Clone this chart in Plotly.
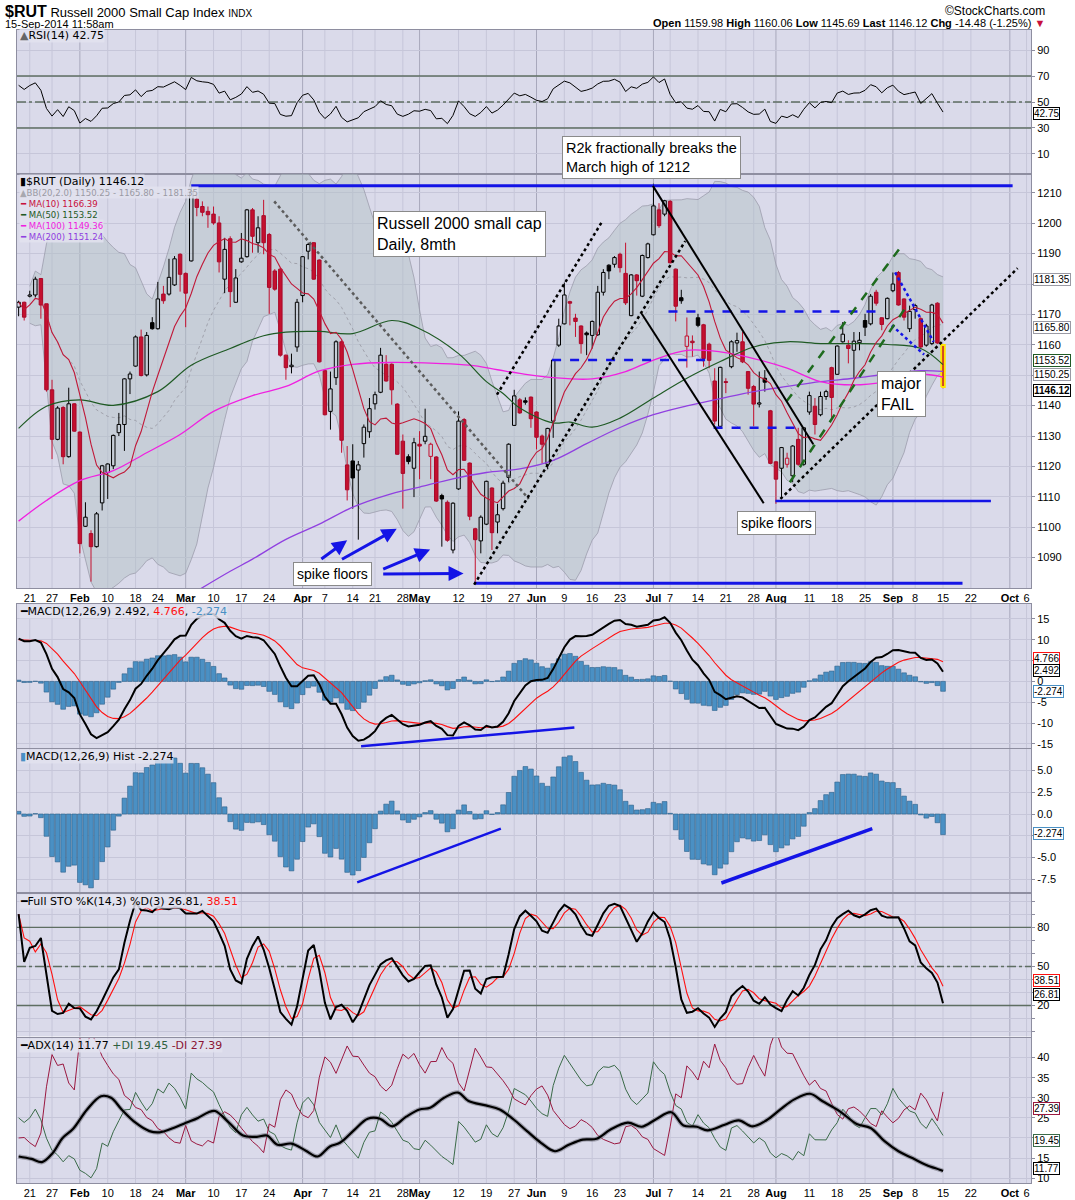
import numpy as np
import pandas as pd
import plotly.graph_objects as go

# daily candles, 16-Jan-2014 .. 15-Sep-2014 (trading-day index 0..166)
opens = [1172.4, 1174.0, 1176.0, 1176.4, 1181.8, 1173.5, 1145.2, 1128.9, 1139.4, 1123.2,
         1140.6, 1131.3, 1100.3, 1097.9, 1093.6, 1108.0, 1118.0, 1120.2, 1131.1, 1133.8,
         1148.8, 1153.0, 1162.6, 1150.1, 1167.3, 1165.3, 1176.7, 1176.7, 1179.7, 1189.8,
         1183.5, 1187.6, 1207.9, 1205.5, 1203.9, 1203.0, 1200.1, 1181.6, 1194.9, 1174.0,
         1187.3, 1189.0, 1204.4, 1193.6, 1202.5, 1196.3, 1184.3, 1184.9, 1156.6, 1152.8,
         1159.3, 1176.2, 1190.8, 1193.6, 1187.9, 1151.5, 1138.1, 1149.2, 1161.0, 1120.5,
         1121.8, 1118.8, 1127.5, 1131.4, 1140.6, 1144.4, 1153.6, 1153.6, 1140.5, 1128.3,
         1123.2, 1119.4, 1127.3, 1128.3, 1123.3, 1123.1, 1110.4, 1108.2, 1092.5, 1112.6,
         1135.4, 1121.1, 1099.5, 1095.5, 1101.0, 1112.9, 1101.7, 1106.1, 1116.4, 1133.5,
         1141.9, 1141.6, 1142.8, 1137.9, 1130.0, 1120.7, 1134.9, 1159.9, 1166.9, 1174.2,
         1168.8, 1166.2, 1163.9, 1163.1, 1163.3, 1177.3, 1186.2, 1186.5, 1189.8, 1183.5,
         1169.6, 1183.0, 1176.0, 1188.7, 1196.2, 1204.4, 1203.0, 1207.2, 1184.9, 1175.5,
         1159.5, 1161.2, 1168.9, 1166.6, 1160.2, 1148.1, 1133.2, 1147.9, 1152.8, 1160.6,
         1161.0, 1151.2, 1146.3, 1140.5, 1149.0, 1138.3, 1121.5, 1119.4, 1120.7, 1116.9,
         1128.9, 1120.7, 1137.9, 1139.8, 1137.0, 1143.0, 1152.5, 1150.3, 1161.0, 1159.9,
         1158.2, 1160.7, 1168.0, 1166.9, 1177.3, 1168.9, 1168.6, 1177.8, 1183.8, 1175.1,
         1165.3, 1171.6, 1168.6, 1159.9, 1160.4, 1173.7, 1159.98]
highs = [1174.5, 1174.2, 1177.8, 1182.4, 1182.0, 1173.5, 1148.5, 1139.8, 1139.8, 1145.9,
         1140.8, 1131.5, 1108.2, 1099.0, 1105.0, 1120.5, 1121.0, 1130.5, 1137.6, 1149.0,
         1151.2, 1163.1, 1165.0, 1164.2, 1169.1, 1180.7, 1179.4, 1188.3, 1189.2, 1190.1,
         1183.8, 1212.0, 1209.3, 1207.2, 1205.5, 1205.5, 1202.3, 1195.2, 1195.7, 1184.9,
         1196.8, 1204.7, 1205.0, 1202.3, 1207.7, 1196.8, 1184.9, 1185.4, 1156.8, 1157.1,
         1175.1, 1189.2, 1193.6, 1193.8, 1188.1, 1151.7, 1151.2, 1161.5, 1161.5, 1126.7,
         1127.3, 1121.8, 1133.8, 1142.5, 1144.6, 1159.0, 1156.6, 1153.9, 1140.8, 1130.5,
         1124.0, 1129.4, 1131.6, 1139.0, 1127.8, 1123.4, 1111.0, 1108.8, 1108.2, 1138.1,
         1135.9, 1121.3, 1099.8, 1103.9, 1115.3, 1113.1, 1107.7, 1115.3, 1127.6, 1145.2,
         1142.5, 1142.7, 1143.0, 1138.1, 1130.5, 1132.7, 1155.2, 1168.6, 1180.5, 1174.5,
         1170.2, 1166.4, 1164.4, 1168.0, 1179.4, 1184.9, 1186.5, 1189.2, 1190.3, 1193.6,
         1183.3, 1183.3, 1189.7, 1193.6, 1213.0, 1206.6, 1207.7, 1207.6, 1185.1, 1178.1,
         1169.0, 1163.1, 1170.2, 1166.9, 1160.7, 1152.3, 1152.8, 1149.0, 1161.5, 1164.0,
         1164.2, 1151.4, 1146.8, 1151.2, 1151.7, 1138.6, 1121.8, 1126.4, 1124.5, 1127.0,
         1132.7, 1132.9, 1144.6, 1142.5, 1144.6, 1145.2, 1152.8, 1159.8, 1167.5, 1161.5,
         1164.2, 1164.2, 1170.2, 1176.7, 1178.1, 1169.1, 1175.6, 1183.8, 1184.3, 1175.3,
         1172.9, 1173.5, 1169.1, 1166.9, 1173.5, 1174.0, 1160.06]
lows = [1169.4, 1168.0, 1175.6, 1175.6, 1168.6, 1144.6, 1122.4, 1128.6, 1120.7, 1122.9,
        1131.4, 1091.4, 1100.1, 1082.1, 1093.3, 1105.5, 1109.3, 1119.1, 1130.0, 1125.1,
        1143.8, 1152.8, 1149.6, 1149.6, 1165.0, 1165.0, 1173.5, 1176.2, 1179.4, 1177.5,
        1165.8, 1187.4, 1202.3, 1202.3, 1198.5, 1199.5, 1183.8, 1177.0, 1172.4, 1173.8,
        1187.0, 1188.7, 1190.3, 1190.3, 1189.8, 1170.2, 1177.8, 1156.1, 1148.5, 1150.6,
        1157.7, 1174.0, 1188.1, 1181.4, 1154.2, 1136.8, 1132.1, 1146.8, 1124.5, 1108.8,
        1106.1, 1095.9, 1122.9, 1129.4, 1138.7, 1144.1, 1147.9, 1140.3, 1123.8, 1106.1,
        1120.7, 1109.9, 1115.8, 1127.3, 1115.8, 1108.3, 1093.6, 1095.2, 1091.4, 1112.3,
        1121.8, 1102.3, 1081.6, 1091.4, 1100.7, 1092.5, 1098.0, 1105.5, 1114.8, 1133.3,
        1137.3, 1140.3, 1132.7, 1125.6, 1121.0, 1119.1, 1129.4, 1159.3, 1166.7, 1166.4,
        1162.6, 1157.1, 1156.6, 1158.8, 1162.9, 1176.2, 1181.6, 1185.4, 1183.8, 1173.1,
        1169.4, 1176.2, 1175.7, 1188.4, 1196.0, 1198.5, 1202.3, 1186.8, 1167.7, 1173.5,
        1152.5, 1156.1, 1165.8, 1152.8, 1152.3, 1133.8, 1132.7, 1144.1, 1152.3, 1157.7,
        1154.0, 1143.6, 1133.2, 1139.4, 1144.6, 1120.8, 1107.7, 1109.3, 1119.6, 1114.8,
        1120.2, 1120.2, 1137.0, 1130.5, 1136.5, 1141.9, 1135.9, 1150.1, 1160.7, 1153.9,
        1149.0, 1158.2, 1162.9, 1166.4, 1172.9, 1164.8, 1168.4, 1177.3, 1172.9, 1168.0,
        1164.2, 1168.6, 1158.8, 1159.4, 1159.9, 1160.3, 1145.69]
closes = [1174.0, 1169.1, 1176.4, 1181.6, 1173.1, 1145.2, 1128.9, 1139.2, 1123.2, 1140.6,
          1131.6, 1094.6, 1103.3, 1093.6, 1104.4, 1120.2, 1120.8, 1130.2, 1133.8, 1148.8,
          1150.4, 1162.6, 1149.9, 1163.1, 1165.3, 1175.1, 1174.5, 1182.2, 1188.3, 1183.2,
          1177.0, 1210.4, 1205.2, 1203.6, 1202.8, 1200.1, 1187.3, 1191.4, 1177.5, 1182.0,
          1188.5, 1204.4, 1195.7, 1198.5, 1193.6, 1178.9, 1178.3, 1156.6, 1152.5, 1153.3,
          1174.0, 1189.0, 1193.0, 1181.6, 1154.4, 1137.0, 1145.5, 1161.0, 1128.6, 1112.3,
          1116.2, 1120.5, 1132.9, 1139.0, 1143.6, 1156.6, 1148.1, 1145.2, 1124.0, 1117.7,
          1121.6, 1127.8, 1126.7, 1129.9, 1127.3, 1108.6, 1109.3, 1095.7, 1107.9, 1134.9,
          1122.0, 1103.6, 1095.9, 1103.3, 1115.1, 1098.2, 1104.1, 1114.5, 1127.3, 1143.2,
          1137.6, 1141.1, 1135.7, 1129.6, 1127.3, 1132.5, 1155.0, 1166.2, 1176.4, 1173.7,
          1167.7, 1160.4, 1163.3, 1167.7, 1177.3, 1183.8, 1184.3, 1188.7, 1185.4, 1173.8,
          1183.0, 1181.1, 1189.4, 1193.2, 1205.7, 1199.2, 1207.4, 1187.0, 1172.7, 1174.5,
          1162.9, 1160.7, 1166.4, 1155.5, 1154.9, 1134.9, 1152.6, 1147.6, 1161.0, 1161.4,
          1154.4, 1145.7, 1140.5, 1140.9, 1147.7, 1121.0, 1115.8, 1126.2, 1122.7, 1126.7,
          1120.7, 1132.7, 1143.3, 1133.8, 1143.0, 1144.6, 1142.7, 1159.6, 1163.5, 1158.8,
          1161.2, 1161.5, 1165.8, 1176.0, 1173.7, 1166.7, 1175.3, 1180.0, 1173.1, 1169.1,
          1171.0, 1172.9, 1159.3, 1166.2, 1173.1, 1160.6, 1146.12]

# long averages (they need history from before the window)
ma50_x = [0, 5, 11, 17, 25, 31, 38, 44, 48, 54, 60, 67, 72, 79, 84, 87, 90, 96, 99, 103,
          108, 114, 120, 126, 132, 138, 144, 150, 156, 162, 166]
ma50_y = [1132.5, 1139.8, 1141.9, 1140.1, 1144.6, 1153.3, 1158.8, 1163.0, 1164.2, 1164.4,
          1163.7, 1168.0, 1165.3, 1157.1, 1147.9, 1144.0, 1139.2, 1134.3, 1134.6, 1132.9,
          1135.9, 1142.5, 1149.0, 1154.5, 1159.3, 1161.0, 1160.4, 1160.4, 1160.1, 1158.8, 1153.5]
ma100_x = [0, 5, 11, 17, 23, 29, 35, 42, 48, 54, 60, 67, 75, 81, 86, 90, 96, 103, 109,
           114, 120, 126, 132, 138, 144, 150, 156, 162, 166]
ma100_y = [1102.0, 1108.8, 1115.3, 1118.6, 1124.5, 1130.5, 1138.1, 1143.3, 1146.3, 1151.4,
           1153.6, 1154.2, 1153.9, 1153.3, 1151.8, 1150.6, 1149.2, 1148.8, 1151.2, 1155.0,
           1158.2, 1157.7, 1155.5, 1152.3, 1147.9, 1146.8, 1147.9, 1150.3, 1149.4]
ma200_x = [32, 38, 42, 48, 54, 60, 66, 72, 78, 84, 90, 96, 102, 108, 114, 120, 126, 132,
           138, 144, 150, 156, 162, 166]
ma200_y = [1079.0, 1085.5, 1089.5, 1096.0, 1101.0, 1106.6, 1110.5, 1113.2, 1115.9, 1118.0,
           1119.2, 1122.0, 1127.5, 1132.8, 1137.0, 1139.9, 1142.3, 1144.6, 1146.3, 1147.9,
           1149.0, 1150.4, 1151.5, 1151.24]
adx_x = [0, 2.3, 4.2, 6.1, 7.9, 9.8, 12.3, 14.8, 16.6, 18.5, 21.0, 23.5, 25.3, 27.8, 30.3,
         32.2, 34.1, 35.3, 37.8, 40.3, 42.8, 44.6, 46.5, 49.0, 51.5, 53.7, 55.9, 57.7, 60.2,
         62.7, 64.9, 67.1, 69.6, 72.0, 73.9, 76.4, 78.9, 80.8, 83.9, 86.4, 88.9, 91.3, 93.8,
         96.3, 98.8, 101.3, 103.8, 106.3, 109.4, 111.9, 114.4, 117.2, 119.4, 121.8, 123.7,
         126.8, 129.3, 131.8, 134.3, 136.8, 139.3, 142.1, 144.3, 147.4, 150.5, 153.0, 155.5,
         158.0, 160.5, 163.0, 165.4, 166]
adx_y = [15.4, 14.8, 14.0, 16.2, 20.0, 22.3, 27.1, 30.4, 30.0, 27.1, 23.8, 21.7, 21.4, 22.5,
         23.9, 25.0, 26.4, 26.7, 23.8, 20.6, 20.3, 20.6, 18.3, 18.6, 16.9, 15.4, 17.9, 18.8,
         21.9, 24.8, 24.8, 22.9, 25.3, 27.1, 27.5, 30.0, 31.3, 29.2, 28.1, 27.1, 24.6, 21.7,
         18.8, 16.7, 18.3, 19.6, 19.8, 22.1, 23.8, 22.8, 24.6, 26.4, 23.1, 22.8, 21.9, 23.3,
         24.4, 22.9, 24.4, 27.1, 29.6, 31.0, 29.2, 26.7, 23.5, 22.5, 19.2, 16.7, 15.0, 13.3,
         12.1, 11.77]

# indicator state on the first bar
rsi_seed_gain, rsi_seed_loss = 4.4, 2.6
ema12_seed, ema26_seed, signal_seed = 1167.5, 1157.2, 10.0
atr_seed, pdm_seed, ndm_seed = 10.0, 2.5, 2.0

tick_idx = [2, 6, 11, 16, 21, 25, 30, 35, 40, 45, 51, 55, 60, 64, 69, 72, 79, 84, 89, 93,
            98, 103, 108, 114, 117, 122, 127, 132, 136, 142, 147, 152, 157, 161, 166, 171,
            178, 181]
tick_text = ["21", "27", "Feb", "10", "18", "24", "Mar", "10", "17", "24", "Apr", "7", "14",
             "21", "28", "May", "12", "19", "27", "Jun", "9", "16", "23", "Jul", "7", "14",
             "21", "28", "Aug", "11", "18", "25", "Sep", "8", "15", "22", "Oct", "6"]
month_idx = [11, 30, 51, 72, 93, 114, 136, 157, 178]

# ---------------------------------------------------------------- indicators
df = pd.DataFrame({"o": opens, "h": highs, "l": lows, "c": closes})
n = len(df)
ix = np.arange(n)
c = df["c"]

ma10 = c.rolling(10, min_periods=1).mean()
bb_mid = c.rolling(20, min_periods=3).mean()
bb_sd = c.rolling(20, min_periods=3).std(ddof=0)
bb_up = bb_mid + 2 * bb_sd
bb_lo = bb_mid - 2 * bb_sd


def wilder(values, seed, period=14):
    out, acc = [], seed
    for i, v in enumerate(values):
        if i > 0:
            acc = (acc * (period - 1) + v) / period
        out.append(acc)
    return np.array(out)


def ema(values, seed, span):
    k = 2 / (span + 1)
    out, acc = [], seed
    for i, v in enumerate(values):
        if i > 0:
            acc = acc + k * (v - acc)
        out.append(acc)
    return np.array(out)


chg = c.diff().fillna(0).to_numpy()
avg_up = wilder(np.clip(chg, 0, None), rsi_seed_gain)
avg_dn = wilder(np.clip(-chg, 0, None), rsi_seed_loss)
rsi = 100 - 100 / (1 + avg_up / avg_dn)

macd = ema(closes, ema12_seed, 12) - ema(closes, ema26_seed, 26)
signal = ema(macd, signal_seed, 9)
hist = macd - signal

ll = df["l"].rolling(14, min_periods=1).min()
hh = df["h"].rolling(14, min_periods=1).max()
sto_k = (100 * (c - ll) / (hh - ll)).rolling(3, min_periods=1).mean()
sto_d = sto_k.rolling(3, min_periods=1).mean()

pc = c.shift()
tr = pd.concat([df["h"] - df["l"], (df["h"] - pc).abs(), (df["l"] - pc).abs()], axis=1).max(axis=1)
up_move = (df["h"] - df["h"].shift()).fillna(0)
dn_move = (df["l"].shift() - df["l"]).fillna(0)
pdm = np.where((up_move > dn_move) & (up_move > 0), up_move, 0.0)
ndm = np.where((dn_move > up_move) & (dn_move > 0), dn_move, 0.0)
atr = wilder(tr.to_numpy(), atr_seed)
pdi = 100 * wilder(pdm, pdm_seed) / atr
ndi = 100 * wilder(ndm, ndm_seed) / atr

# ---------------------------------------------------------------- layout helpers
W, H = 1075, 1200
ML, MR, MT, MB = 17, 44, 30, 17
PW, PH = W - ML - MR, H - MT - MB
XR = [-0.29, 181.8]


def px(x):
    return (x - ML) / PW


def py(y):
    return 1 - (y - MT) / PH


BG = "#DADAEA"
GRID = "#C6C6D9"
MONTHC = "#A8A8BC"
RED = "#C4102E"
HBLUE = "#4A90C4"
LBLUE = "#1414E6"
FONT_AX = "Liberation Sans Narrow, Arial Narrow, Liberation Sans, Arial, sans-serif"
FONT_LEG = "DejaVu Sans, Verdana, sans-serif"
FONT_SMALL = "DejaVu Sans Condensed, Liberation Sans, Arial, sans-serif"
FONT_BOX = "Liberation Sans, Arial, sans-serif"

panels = {  # top px, bottom px, y range
    1: (30, 174, [-5.4, 105.4]),
    2: (174, 588, [1080, 1216.2]),
    3: (604, 748, [-16, 18.6]),
    4: (749, 893, [-9.08, 7.47]),
    5: (893, 1036.5, [-3.8, 106.4]),
    6: (1037.5, 1183, [8.8, 45]),
}


def on(k):
    return dict(xaxis="x" if k == 1 else f"x{k}", yaxis="y" if k == 1 else f"y{k}")


fig = go.Figure()

# reference levels on RSI and STO
for k, v, dash in [(1, 70, "solid"), (1, 30, "solid"), (1, 50, "dashdot"),
                   (5, 80, "solid"), (5, 20, "solid"), (5, 50, "dashdot")]:
    fig.add_trace(go.Scatter(x=XR, y=[v, v], mode="lines",
                             line=dict(color="#5E6E62", width=1.4, dash=dash), **on(k)))

# ---------------------------------------------------------------- RSI
fig.add_trace(go.Scatter(x=ix, y=rsi, mode="lines", line=dict(color="black", width=1), **on(1)))

# ---------------------------------------------------------------- price panel
band = pd.DataFrame({"x": ix, "lo": bb_lo, "up": bb_up, "mid": bb_mid}).dropna()
fig.add_trace(go.Scatter(x=band["x"], y=band["lo"], mode="lines",
                         line=dict(color="rgba(150,150,165,0.7)", width=1), **on(2)))
fig.add_trace(go.Scatter(x=band["x"], y=band["up"], mode="lines", fill="tonexty",
                         fillcolor="rgba(175,190,195,0.45)",
                         line=dict(color="rgba(150,150,165,0.7)", width=1), **on(2)))
fig.add_trace(go.Scatter(x=band["x"], y=band["mid"], mode="lines",
                         line=dict(color="rgba(150,150,160,0.8)", width=1, dash="dot"), **on(2)))

prev_c = c.shift()
black = ((c >= prev_c) | prev_c.isna()).to_numpy()
hollow = (c > df["o"]).to_numpy()
body_lo = np.minimum(df["o"], c).to_numpy()
body_hi = np.maximum(body_lo + 0.3, np.maximum(df["o"], c).to_numpy())
last = ix == n - 1
HW = 0.31  # half body width in trading days

for col, m in (("black", black), (RED, ~black)):
    wx, wy = [], []
    for i in ix[m]:
        wx += [i, i, None, i, i, None]
        wy += [lows[i], body_lo[i], None, body_hi[i], highs[i], None]
    fig.add_trace(go.Scatter(x=wx, y=wy, mode="lines", line=dict(color=col, width=1), **on(2)))

groups = [
    (black & hollow & ~last, None, "black", 1),
    (black & ~hollow & ~last, "black", "black", 1),
    (~black & hollow & ~last, None, RED, 1),
    (~black & ~hollow & ~last, RED, "#A8082A", 1),
    (last, RED, "#FFE400", 2),
]
for m, fill, edge, lw in groups:
    bx, by = [], []
    for i in ix[m]:
        bx += [i - HW, i + HW, i + HW, i - HW, i - HW, None]
        by += [body_lo[i], body_lo[i], body_hi[i], body_hi[i], body_lo[i], None]
    fig.add_trace(go.Scatter(x=bx, y=by, mode="lines", line=dict(color=edge, width=lw),
                             fill="toself" if fill else "none", fillcolor=fill, **on(2)))

fig.add_trace(go.Scatter(x=ma200_x, y=ma200_y, mode="lines", line_shape="spline",
                         line=dict(color="#9040E0", width=1.3), **on(2)))
fig.add_trace(go.Scatter(x=ma100_x, y=ma100_y, mode="lines", line_shape="spline",
                         line=dict(color="#F020E0", width=1.3), **on(2)))
fig.add_trace(go.Scatter(x=ma50_x, y=ma50_y, mode="lines", line_shape="spline",
                         line=dict(color="#1F5A24", width=1.2), **on(2)))
fig.add_trace(go.Scatter(x=ix, y=ma10, mode="lines", line=dict(color="#C01838", width=1.1), **on(2)))

# ---------------------------------------------------------------- MACD panels
for k in (3, 4):
    fig.add_trace(go.Bar(x=ix, y=hist, width=0.85, opacity=1,
                         marker=dict(color=HBLUE, opacity=1, line=dict(color="#2A5E88", width=0.6)),
                         **on(k)))
fig.add_trace(go.Scatter(x=ix, y=signal, mode="lines", line=dict(color="#FF1010", width=1.1), **on(3)))
fig.add_trace(go.Scatter(x=ix, y=macd, mode="lines", line=dict(color="black", width=2), **on(3)))

# ---------------------------------------------------------------- STO
fig.add_trace(go.Scatter(x=ix, y=sto_d, mode="lines", line=dict(color="#FF1010", width=1.1), **on(5)))
fig.add_trace(go.Scatter(x=ix, y=sto_k, mode="lines", line=dict(color="black", width=2), **on(5)))

# ---------------------------------------------------------------- ADX
fig.add_trace(go.Scatter(x=ix, y=pdi, mode="lines", line=dict(color="#3A6A48", width=1), **on(6)))
fig.add_trace(go.Scatter(x=ix, y=ndi, mode="lines", line=dict(color="#9A1840", width=1), **on(6)))
fig.add_trace(go.Scatter(x=adx_x, y=adx_y, mode="lines", line_shape="spline",
                         line=dict(color="rgba(110,110,120,0.55)", width=4.5), **on(6)))
fig.add_trace(go.Scatter(x=adx_x, y=adx_y, mode="lines", line_shape="spline",
                         line=dict(color="black", width=2.2), **on(6)))

# ---------------------------------------------------------------- axes
ytick = {
    1: ([10, 30, 50, 70, 90], ["10", "30", "50", "70", "90"]),
    2: (list(range(1090, 1211, 10)),
        ["" if v in (1150, 1180) else str(v) for v in range(1090, 1211, 10)]),
    3: ([-15, -10, -5, 0, 5, 10, 15], ["-15", "-10", "-5", "0", "", "10", "15"]),
    4: ([-7.5, -5, -2.5, 0, 2.5, 5], ["-7.5", "-5.0", "", "0.0", "2.5", "5.0"]),
    5: (list(range(0, 101, 10)), ["" if v not in (20, 50, 80) else str(v) for v in range(0, 101, 10)]),
    6: ([10, 15, 20, 25, 30, 35, 40], ["10", "15", "", "25", "30", "35", "40"]),
}
xtext = [f"<b>{t}</b>" if t.isalpha() else t for t in tick_text]
layout_axes = {}
for k, (top, bot, yr) in panels.items():
    xs = "xaxis" if k == 1 else f"xaxis{k}"
    ys = "yaxis" if k == 1 else f"yaxis{k}"
    layout_axes[xs] = dict(
        domain=[0, 1], range=XR, anchor="y" if k == 1 else f"y{k}", automargin=False,
        tickmode="array", tickvals=tick_idx, ticktext=xtext, showticklabels=k in (2, 6),
        ticks="", tickangle=0, showgrid=False, zeroline=False,
        showline=True, mirror=True, linecolor="#8E8EA0", linewidth=1,
        tickfont=dict(family=FONT_AX, size=11, color="black"), fixedrange=True,
    )
    tv, tt = ytick[k]
    layout_axes[ys] = dict(
        domain=[py(bot), py(top)], range=yr, anchor="x" if k == 1 else f"x{k}",
        automargin=False, side="right", tickmode="array", tickvals=tv, ticktext=tt,
        ticks="outside", ticklen=3, tickcolor="#8E8EA0", showgrid=True, gridcolor=GRID,
        zeroline=False, showline=True, mirror=True, linecolor="#8E8EA0", linewidth=1,
        tickfont=dict(family=FONT_AX, size=11, color="black"), fixedrange=True,
    )

# ---------------------------------------------------------------- shapes
shapes = []
for k in panels:
    xr = "x" if k == 1 else f"x{k}"
    yd = ("y" if k == 1 else f"y{k}") + " domain"
    for t in tick_idx:
        col = MONTHC if t in month_idx else GRID
        shapes.append(dict(type="line", xref=xr, yref=yd, x0=t, x1=t, y0=0, y1=1,
                           line=dict(color=col, width=1), layer="below"))

# hand-drawn studies on the price panel: (x0, y0, x1, y1, colour, width, dash)
price_lines = [
    (31.0, 1212.3, 178.5, 1212.3, LBLUE, 3, "solid"),
    (81.8, 1081.6, 169.5, 1081.6, LBLUE, 3, "solid"),
    (135.9, 1108.6, 174.6, 1108.6, LBLUE, 2.5, "solid"),
    (95.8, 1155.0, 124.5, 1155.0, LBLUE, 2.5, "dash"),
    (116.7, 1171.0, 154.7, 1171.0, LBLUE, 2.5, "dash"),
    (124.8, 1132.7, 140.6, 1132.7, LBLUE, 2.5, "dash"),
    (157.4, 1183.8, 164.3, 1161.0, LBLUE, 2.5, "dot"),
    (156.8, 1166.4, 162.6, 1156.8, LBLUE, 2.5, "dot"),
    (45.9, 1207.2, 91.6, 1109.3, "#5C5C5C", 2.5, "dot"),
    (81.8, 1081.1, 119.7, 1194.1, "black", 2.5, "dot"),
    (85.9, 1143.6, 104.7, 1200.3, "black", 2.5, "dot"),
    (136.8, 1109.3, 179.4, 1185.2, "black", 2.5, "dot"),
    (137.9, 1141.4, 158.6, 1192.7, "#1E6B1E", 2.5, "dash"),
    (138.5, 1114.8, 159.5, 1172.9, "#1E6B1E", 2.5, "dash"),
    (113.9, 1212.3, 142.7, 1127.3, "black", 2, "solid"),
    (111.9, 1170.2, 133.8, 1107.9, "black", 2, "solid"),
]
for x0, y0, x1, y1, col, w, dash in price_lines:
    shapes.append(dict(type="line", xref="x2", yref="y2", x0=x0, y0=y0, x1=x1, y1=y1,
                       line=dict(color=col, width=w, dash=dash), layer="above"))

macd_lines = [
    (3, 61.5, -15.6, 99.8, -11.1, 2.5),
    (4, 60.8, -7.85, 86.6, -1.69, 2.5),
    (4, 126.2, -7.93, 153.3, -1.69, 3.5),
]
for k, x0, y0, x1, y1, w in macd_lines:
    shapes.append(dict(type="line", xref=f"x{k}", yref=f"y{k}", x0=x0, y0=y0, x1=x1, y1=y1,
                       line=dict(color=LBLUE, width=w), layer="above"))

# ---------------------------------------------------------------- annotations
ann = []


def text(x, y, s, size=11, family=FONT_LEG, anchor="left", color="black", bg=None):
    a = dict(xref="paper", yref="paper", x=px(x), y=py(y), text=s, showarrow=False,
             xanchor=anchor, yanchor="middle", font=dict(family=family, size=size, color=color))
    if bg:
        a.update(bgcolor=bg, borderpad=0)
    ann.append(a)


HDR = "Liberation Sans Narrow, Arial Narrow, Liberation Sans, Arial, sans-serif"
text(3, 12, "<span style='font-size:16px'><b>$RUT</b></span> Russell 2000 Small Cap Index "
     "<span style='font-size:10px'>INDX</span>", size=13, family=HDR)
text(3, 24, "15-Sep-2014 11:58am", size=11, family=HDR)
text(1047, 11, "©StockCharts.com", size=12, family=HDR, anchor="right")
text(1047, 23, "<b>Open</b> 1159.98 <b>High</b> 1160.06 <b>Low</b> 1145.69 <b>Last</b> 1146.12 "
     "<b>Chg</b> -14.48 (-1.25%) <span style='color:#C8103C'>▼</span>",
     size=11, family=HDR, anchor="right")

LEGBG = "rgba(226,226,238,0.85)"
text(19, 36, "<span style='color:#666'>▲</span>RSI(14) 42.75", bg=LEGBG)
text(19, 181.5, "▮$RUT (Daily) 1146.12", size=11, bg=LEGBG)
text(19, 192.5, "<span style='color:#A8A8B0'>▲</span>BB(20,2.0) 1150.25 - 1165.80 - 1181.35",
     size=9.5, family=FONT_SMALL, color="#9A9AA4", bg=LEGBG)
text(19, 203.5, "━ MA(10) 1166.39", size=9.5, family=FONT_SMALL, color="#C8103C", bg=LEGBG)
text(19, 214.5, "━ MA(50) 1153.52", size=9.5, family=FONT_SMALL, color="#1F5A24", bg=LEGBG)
text(19, 225.5, "━ MA(100) 1149.36", size=9.5, family=FONT_SMALL, color="#F020E0", bg=LEGBG)
text(19, 236.5, "━ MA(200) 1151.24", size=9.5, family=FONT_SMALL, color="#9040E0", bg=LEGBG)
text(19, 611, "━MACD(12,26,9) 2.492, <span style='color:#FF1010'>4.766</span>, "
     "<span style='color:#4A90C4'>-2.274</span>", bg=LEGBG)
text(19, 756, "<span style='color:#4A90C4'>▮</span>MACD(12,26,9) Hist -2.274", bg=LEGBG)
text(19, 901, "━Full STO %K(14,3) %D(3) 26.81, <span style='color:#FF1010'>38.51</span>", bg=LEGBG)
text(19, 1045, "━ADX(14) 11.77 <span style='color:#2F5F3F'>+DI 19.45</span> "
     "<span style='color:#8B1535'>-DI 27.39</span>", bg=LEGBG)

# note boxes (left, top in page pixels)
notes = [
    (562, 136, "R2k fractionally breaks the<br>March high of 1212", 14.5),
    (373, 211, "Russell 2000 small cap<br>Daily, 8mth", 16),
    (293, 562, "spike floors", 14),
    (737, 511, "spike floors", 14),
    (877, 371, "major<br>FAIL", 16),
]
for x, y, s, fs in notes:
    ann.append(dict(xref="paper", yref="paper", x=px(x), y=py(y), text=s, showarrow=False,
                    xanchor="left", yanchor="top", align="left", bgcolor="white",
                    bordercolor="#8A8A8A", borderwidth=1, borderpad=3,
                    font=dict(family=FONT_BOX, size=fs, color="black")))

# spike-floor arrows: (tail x, tail y, head x, head y)
arrows = [(54.1, 1089.2, 59.0, 1095.7), (57.8, 1089.2, 67.9, 1099.5),
          (65.2, 1086.0, 73.9, 1092.7), (65.2, 1084.6, 79.9, 1084.8)]
for x0, y0, x1, y1 in arrows:
    ann.append(dict(xref="x2", yref="y2", axref="x2", ayref="y2", x=x1, y=y1, ax=x0, ay=y0,
                    text="", showarrow=True, arrowhead=2, arrowsize=1, arrowwidth=3,
                    arrowcolor=LBLUE))

# value tags on the right axis: (panel, value, label, border colour, y shift, bold)
tags = [
    (1, 42.75, "42.75", "black", -2, False),
    (2, 1181.35, "1181.35", "#9A9AA4", 0, False),
    (2, 1165.80, "1165.80", "#9A9AA4", 0, False),
    (2, 1153.52, "1153.52", "#1F5A24", 4, False),
    (2, 1150.25, "1150.25", "#9A9AA4", 0, False),
    (2, 1146.12, "1146.12", "black", -3, True),
    (3, 4.766, "4.766", "#FF1010", 3, False),
    (3, 2.492, "2.492", "black", 1, False),
    (3, -2.274, "-2.274", "#4A90C4", -1, False),
    (4, -2.274, "-2.274", "#4A90C4", 0, False),
    (5, 38.51, "38.51", "#FF1010", 1, False),
    (5, 26.81, "26.81", "black", 2, False),
    (6, 27.39, "27.39", "#9A1840", 0, False),
    (6, 19.45, "19.45", "#3A6A48", 0, False),
    (6, 11.77, "11.77", "black", 3, False),
]
for k, v, s, col, ys, bold in tags:
    ann.append(dict(xref="paper", yref="y" if k == 1 else f"y{k}", x=1, y=v,
                    text=f"<b>{s}</b>" if bold else s, showarrow=False, xanchor="left",
                    yanchor="middle", xshift=2, yshift=ys, bgcolor="white", bordercolor=col,
                    borderwidth=1, borderpad=0,
                    font=dict(family=FONT_AX, size=10, color="black")))

fig.update_layout(
    width=W, height=H, margin=dict(l=ML, r=MR, t=MT, b=MB, autoexpand=False),
    paper_bgcolor="white", plot_bgcolor=BG, showlegend=False,
    barmode="overlay", shapes=shapes, annotations=ann, hovermode=False,
    **layout_axes,
)

fig.write_html("out.html", config={"displayModeBar": False},
               post_script="document.body.style.margin='0';")
